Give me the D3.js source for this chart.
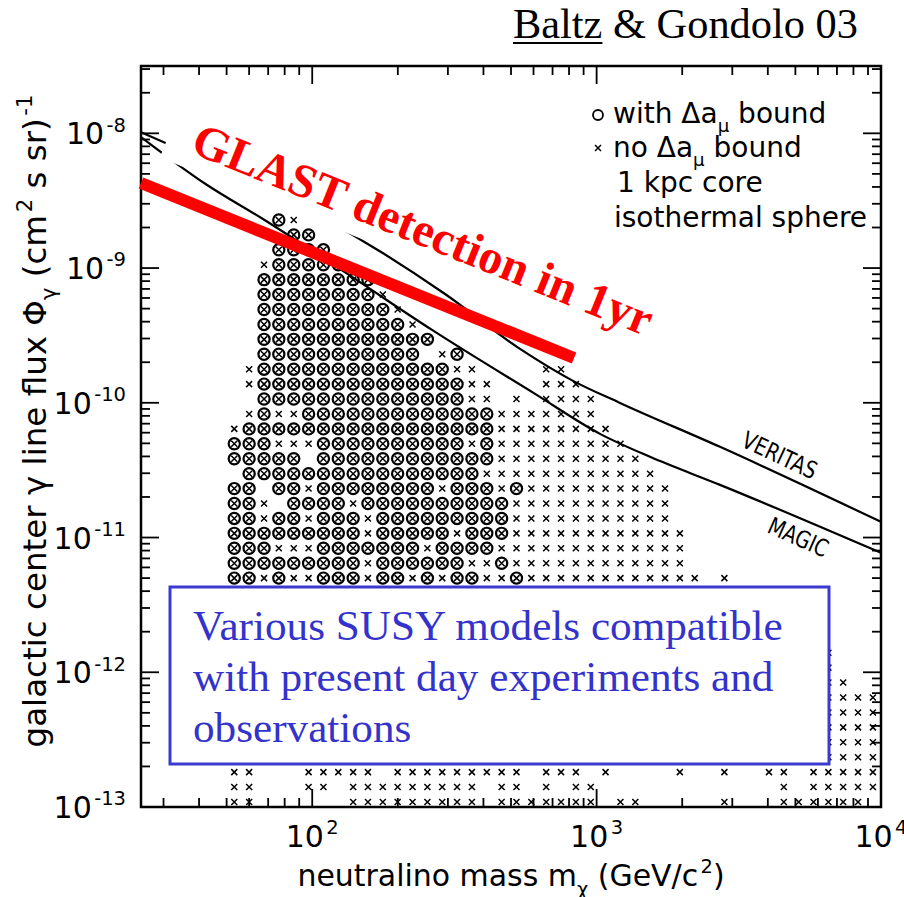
<!DOCTYPE html>
<html>
<head>
<meta charset="utf-8">
<title>Baltz &amp; Gondolo 03</title>
<script src="https://cdn.jsdelivr.net/npm/d3@7"></script>
<style>
  body { margin: 0; background: #fff; }
  svg { display: block; }
</style>
</head>
<body>
<script>
// ---------------- data ----------------

// neutralino mass of each grid column (GeV)
var masses = [53.2, 60.0, 67.7, 76.3, 86.1, 97.1, 109.5, 123.5, 139.3, 157.0,
              177.1, 199.7, 225.3, 254.1, 286.5, 323.1, 364.4, 411.0, 463.5, 522.7,
              589.5, 664.8, 749.8, 845.6, 953.5, 1075, 1213, 1368, 1542, 1740,
              1962, 2213, 2495, 2814, 3174, 3579, 4037, 4553, 5134, 5790,
              6530, 7362, 8303, 9365];

// gamma line flux of each grid row (cm^-2 s^-1 sr^-1), top row first
var fluxes = [2.275e-9, 1.763e-9, 1.366e-9, 1.059e-9, 8.204e-10, 6.357e-10, 4.925e-10, 3.816e-10,
              2.957e-10, 2.292e-10, 1.776e-10, 1.376e-10, 1.066e-10, 8.263e-11, 6.403e-11, 4.961e-11,
              3.844e-11, 2.979e-11, 2.308e-11, 1.789e-11, 1.386e-11, 1.074e-11, 8.324e-12, 6.449e-12,
              4.997e-12, 3.873e-12, 3.001e-12, 2.325e-12, 1.802e-12, 1.396e-12, 1.082e-12, 8.384e-13,
              6.496e-13, 5.033e-13, 3.901e-13, 3.022e-13, 2.342e-13, 1.815e-13, 1.406e-13, 1.090e-13];

// models "with Δa_μ bound" (circled), per row: column ranges
var withBound = [
    "3", "4-5", "3-6", "3-7", "2-9", "2-9", "2-10", "2-11", "2-13", "2-12,15",
    "2-14", "2-15", "2-15", "2,5-17", "1-17", "0-2,6-15,17", "0-4,6-17", "1-16",
    "0-1,3-4,6-13,15-17,19", "0-1,4-7,9-18", "0-1,3-4,6-8,10-18", "0-8,10-14,16-18",
    "0-2,6-12,14-17", "0-8,10-15,18", "0-1,3,6-8,10-11,13,15-16,19",
    "", "", "", "", "", "", "", "", "", "", "", "", "", "", ""
];

// models "no Δa_μ bound" (cross only), per row: column ranges
var noBound = [
    "4", "", "", "2", "", "10", "11", "12", "", "14",
    "1,15-16,21-22", "1,16-17,21-23", "16-17,19,21-24", "1,3-4,18-24", "0,18-25",
    "3-5,16,18-26", "18-27", "17-28", "5,14,18,20-29", "2,8,19-29", "2,5,9,19-29",
    "9,15,19-30", "3-5,13,18-30", "9,16-17,19-30", "2,4-5,9,12,14,17-18,20-31,33",
    "", "", "", "", "40", "40", "40-41", "40-43", "40-43", "40-43", "40-43", "40-43",
    "0-1,5-9,11-19,21-23,25,30,33,36-37,39-43",
    "0-1,5-6,8-16,18-19,21,23-24,37,39-43",
    "0-1,8-16,18-24,26-27,33,37-42"
];

// sensitivity curves
var veritasMass = [25, 174.6, 293.1, 537.8, 826, 1208, 2716, 10000];
var veritasFlux = [1.02e-8, 1.317e-9, 6.42e-10, 2.51e-10, 1.454e-10, 9.98e-11, 4.71e-11, 1.307e-11];
var magicMass = [25, 42.7, 67.1, 138.0, 263.8, 607.4, 1028, 1541, 2716, 10000];
var magicFlux = [9.39e-9, 4.135e-9, 2.313e-9, 8.59e-10, 3.474e-10, 1.164e-10, 5.88e-11, 3.97e-11, 2.46e-11, 7.70e-12];

// GLAST one year detection line
var glastMass = [25, 833];
var glastFlux = [4.28e-9, 2.15e-10];

// axes
var xMajor = [100, 1000, 10000];
var xExp = ["2", "3", "4"];
var yMajor = [1e-8, 1e-9, 1e-10, 1e-11, 1e-12, 1e-13];
var yExp = ["-8", "-9", "-10", "-11", "-12", "-13"];

var boxLines = ["Various SUSY models compatible",
                "with present day experiments and",
                "observations"];

// ---------------- helpers ----------------

// "2,5-7" -> [2,5,6,7]
function cols(s) {
    var out = [];
    if (!s) return out;
    s.split(",").forEach(function(p) {
        var ab = p.split("-");
        var a = +ab[0], b = ab.length > 1 ? +ab[1] : a;
        for (var k = a; k <= b; k++) out.push(k);
    });
    return out;
}

// text built from [string, "sup"|"sub"|undefined] parts
function richText(text, parts, f) {
    text.selectAll("tspan").remove();
    text.attr("font-size", f);
    var shift = 0;
    parts.forEach(function(p) {
        var target = p[1] == "sup" ? -0.42 * f : p[1] == "sub" ? 0.32 * f : 0;
        var ts = text.append("tspan").attr("dy", target - shift).text(p[0]);
        if (p[1]) ts.attr("font-size", 0.65 * f);
        if (p[1] == "sup") ts.attr("dx", 0.08 * f);
        shift = target;
    });
}

function fitRich(text, parts, f, width) {
    richText(text, parts, f);
    var w = text.node().getComputedTextLength();
    richText(text, parts, f * width / w);
}

function fitText(sel, width) {
    var f = +sel.attr("font-size");
    var w = sel.node().getComputedTextLength();
    sel.attr("font-size", f * width / w);
}

// ---------------- chart ----------------

var W = 904, H = 897;
var AXFONT = "DejaVu Sans";
var SERIF = "Liberation Serif, Times New Roman, serif";

var svg = d3.select("body").append("svg")
    .attr("width", W)
    .attr("height", H);

// plot frame in pixels
var frame = { left: 141, right: 881, top: 66, bottom: 807 };

var x = d3.scaleLog().domain([25, 1e4]).range([frame.left, frame.right]);
var y = d3.scaleLog().domain([1e-13, 3.16e-8]).range([frame.bottom, frame.top]);

function isMajor(v) {
    var l = Math.log10(v);
    return Math.abs(l - Math.round(l)) < 1e-6;
}

// ticks on all four sides, pointing inwards
var axes = svg.append("g").attr("stroke", "#000").attr("stroke-width", 1.8);

x.ticks().forEach(function(v) {
    var len = isMajor(v) ? 18 : 9;
    axes.append("line").attr("x1", x(v)).attr("x2", x(v))
        .attr("y1", frame.bottom).attr("y2", frame.bottom - len);
    axes.append("line").attr("x1", x(v)).attr("x2", x(v))
        .attr("y1", frame.top).attr("y2", frame.top + len);
});
y.ticks().forEach(function(v) {
    var len = isMajor(v) ? 18 : 9;
    axes.append("line").attr("y1", y(v)).attr("y2", y(v))
        .attr("x1", frame.left).attr("x2", frame.left + len);
    axes.append("line").attr("y1", y(v)).attr("y2", y(v))
        .attr("x1", frame.right).attr("x2", frame.right - len);
});

// tick labels
var labels = svg.append("g")
    .attr("font-family", AXFONT)
    .attr("fill", "#000");

yMajor.forEach(function(v, i) {
    var t = labels.append("text")
        .attr("x", 126)
        .attr("y", y(v) + 11)
        .attr("text-anchor", "end");
    richText(t, [["10"], [yExp[i], "sup"]], 30);
});

xMajor.forEach(function(v, i) {
    var t = labels.append("text")
        .attr("x", x(v))
        .attr("y", 847)
        .attr("text-anchor", "middle");
    richText(t, [["10"], [xExp[i], "sup"]], 30);
});

// axis titles
var xTitle = labels.append("text")
    .attr("x", 511)
    .attr("y", 886)
    .attr("text-anchor", "middle");
fitRich(xTitle, [["neutralino mass m"], ["χ", "sub"], [" (GeV/c"], ["2", "sup"], [")"]], 28, 425);

var yTitle = labels.append("text")
    .attr("transform", "translate(46,421) rotate(-90)")
    .attr("text-anchor", "middle");
fitRich(yTitle, [["galactic center γ line flux Φ"], ["γ", "sub"], [" (cm"], ["2", "sup"],
                 [" s sr)"], ["-1", "sup"]], 28, 648);

// sensitivity curves
var line = d3.line()
    .x(function(d) { return x(d[0]); })
    .y(function(d) { return y(d[1]); })
    .curve(d3.curveMonotoneX);

svg.append("path")
    .attr("d", line(d3.zip(veritasMass, veritasFlux)))
    .attr("fill", "none")
    .attr("stroke", "#000")
    .attr("stroke-width", 2.2);

svg.append("path")
    .attr("d", line(d3.zip(magicMass, magicFlux)))
    .attr("fill", "none")
    .attr("stroke", "#000")
    .attr("stroke-width", 2.2);

// curve labels (narrow lettering like the plotter font)
labels.append("text")
    .attr("transform", "translate(740,446) rotate(25) scale(0.8,1)")
    .attr("font-size", 24)
    .text("VERITAS");

labels.append("text")
    .attr("transform", "translate(766,532) rotate(24) scale(0.8,1)")
    .attr("font-size", 24)
    .text("MAGIC");

// SUSY models
var points = [];
fluxes.forEach(function(f, r) {
    cols(withBound[r]).forEach(function(c) {
        points.push({ mass: masses[c], flux: f, bound: true });
    });
    cols(noBound[r]).forEach(function(c) {
        points.push({ mass: masses[c], flux: f, bound: false });
    });
});

var models = svg.append("g");

models.selectAll("circle")
    .data(points.filter(function(d) { return d.bound; }))
    .enter().append("circle")
    .attr("cx", function(d) { return x(d.mass); })
    .attr("cy", function(d) { return y(d.flux); })
    .attr("r", 5.6)
    .attr("fill", "none")
    .attr("stroke", "#000")
    .attr("stroke-width", 2.2);

models.selectAll("path")
    .data(points)
    .enter().append("path")
    .attr("transform", function(d) { return "translate(" + x(d.mass) + "," + y(d.flux) + ")"; })
    .attr("d", "M-3,-3L3,3M-3,3L3,-3")
    .attr("stroke", "#000")
    .attr("stroke-width", 1.5);

// frame
svg.append("rect")
    .attr("x", frame.left)
    .attr("y", frame.top)
    .attr("width", frame.right - frame.left)
    .attr("height", frame.bottom - frame.top)
    .attr("fill", "none")
    .attr("stroke", "#000")
    .attr("stroke-width", 2.5);

// legend
var legend = svg.append("g")
    .attr("font-family", AXFONT)
    .attr("fill", "#000");

legend.append("circle")
    .attr("cx", 598).attr("cy", 115).attr("r", 5)
    .attr("fill", "none").attr("stroke", "#000").attr("stroke-width", 1.8);
legend.append("path")
    .attr("transform", "translate(598,148)")
    .attr("d", "M-3,-3L3,3M-3,3L3,-3")
    .attr("stroke", "#000").attr("stroke-width", 1.5);

richText(legend.append("text").attr("x", 613).attr("y", 123),
         [["with Δa"], ["μ", "sub"], [" bound"]], 28);
richText(legend.append("text").attr("x", 613).attr("y", 157),
         [["no Δa"], ["μ", "sub"], [" bound"]], 28);
legend.append("text").attr("x", 617).attr("y", 192).attr("font-size", 28).text("1 kpc core");
legend.append("text").attr("x", 614).attr("y", 227).attr("font-size", 28).text("isothermal sphere");

// GLAST line
svg.append("line")
    .attr("x1", x(glastMass[0])).attr("y1", y(glastFlux[0]))
    .attr("x2", x(glastMass[1])).attr("y2", y(glastFlux[1]))
    .attr("stroke", "#ff0000")
    .attr("stroke-width", 12);

// GLAST caption in a white text box (the box hides the curves behind it)
var glast = svg.append("g").attr("transform", "translate(189,152) rotate(22)");
var glastBox = glast.append("rect").attr("fill", "#fff");
var glastText = glast.append("text")
    .attr("font-family", SERIF)
    .attr("font-weight", "bold")
    .attr("font-size", 46)
    .attr("fill", "#ff0000")
    .text("GLAST detection in 1yr");
fitText(glastText, 492);
var gl = glastText.node().getComputedTextLength();
glastBox.attr("x", -25).attr("y", -44).attr("width", gl + 33).attr("height", 60);

// box with the SUSY remark
svg.append("rect")
    .attr("x", 170).attr("y", 587)
    .attr("width", 659).attr("height", 177)
    .attr("fill", "#fff")
    .attr("stroke", "#3a3ad0")
    .attr("stroke-width", 3);

var boxText = svg.append("g")
    .attr("font-family", SERIF)
    .attr("fill", "#3333cc");
var first = boxText.append("text").attr("x", 193).attr("y", 640)
    .attr("font-size", 42).text(boxLines[0]);
fitText(first, 590);
var bf = first.attr("font-size");
boxLines.slice(1).forEach(function(s, i) {
    boxText.append("text")
        .attr("x", 193)
        .attr("y", 691 + i * 51)
        .attr("font-size", bf)
        .text(s);
});

// citation
var cite = svg.append("text")
    .attr("x", 513)
    .attr("y", 38)
    .attr("font-family", SERIF)
    .attr("font-size", 41)
    .attr("fill", "#000");
cite.append("tspan").text("Baltz");
cite.append("tspan").text(" & Gondolo 03");
fitText(cite, 345);
var baltzW = cite.node().getSubStringLength(0, 5);
svg.append("line")
    .attr("x1", 513).attr("x2", 513 + baltzW)
    .attr("y1", 43).attr("y2", 43)
    .attr("stroke", "#000").attr("stroke-width", 2.2);
</script>
</body>
</html>
